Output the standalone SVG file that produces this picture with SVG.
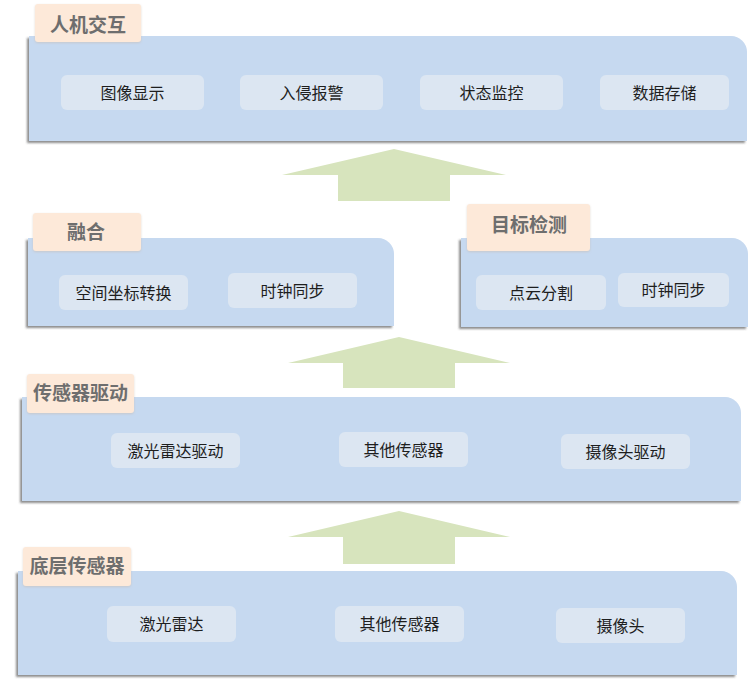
<svg xmlns="http://www.w3.org/2000/svg" width="750" height="683" viewBox="0 0 750 683">
<defs>
<filter id="sh" x="-5%" y="-10%" width="110%" height="125%">
<feDropShadow dx="-2" dy="2" stdDeviation="1" flood-color="#404040" flood-opacity="0.6"/>
</filter>
<filter id="tsh" x="-5%" y="-10%" width="110%" height="125%">
<feDropShadow dx="0" dy="1" stdDeviation="0.8" flood-color="#c8b8a8" flood-opacity="0.5"/>
</filter>
</defs>
<style>
.panel{fill:#c6d9f0;filter:url(#sh)}
.tab{fill:#fde9d9;filter:url(#tsh)}
.tabt{font-family:"Noto Sans CJK SC","Noto Sans",sans-serif;font-size:19px;font-weight:bold;fill:#6e6e6e;text-anchor:middle}
.node{fill:#dce6f2}
.nt{font-family:"Noto Sans CJK SC","Noto Sans",sans-serif;font-size:16px;fill:#1e1e1e;text-anchor:middle}
.arrow{fill:#d7e4bd}
</style>
<rect width="750" height="683" fill="#ffffff"/>

<g id="connectors">
<polygon class="arrow" points="394,149 506,175 450,175 450,201 338,201 338,175 282,175"/>
<polygon class="arrow" points="399,337 510,363 455,363 455,388 343,388 343,363 288,363"/>
<polygon class="arrow" points="399,511 510,537 455,537 455,564 343,564 343,537 288,537"/>
</g>

<g id="layer-hmi">
<path class="panel" d="M29,36 H731 A16,16 0 0 1 747,52 V141 H29 Z"/>
<rect class="tab" x="35" y="4" width="106" height="38" rx="3"/>
<text class="tabt" x="88" y="32">人机交互</text>
</g>
<g id="node-display"><rect class="node" x="61" y="75" width="143" height="35" rx="6"/><text class="nt" x="132.5" y="98.5">图像显示</text></g>
<g id="node-alarm"><rect class="node" x="240" y="75" width="143" height="35" rx="6"/><text class="nt" x="311.5" y="98.5">入侵报警</text></g>
<g id="node-monitor"><rect class="node" x="420" y="75" width="143" height="35" rx="6"/><text class="nt" x="491.5" y="98.5">状态监控</text></g>
<g id="node-storage"><rect class="node" x="600" y="75" width="129" height="35" rx="6"/><text class="nt" x="664.5" y="98.5">数据存储</text></g>

<g id="layer-fusion">
<path class="panel" d="M28,238 H378 A16,16 0 0 1 394,254 V326 H28 Z"/>
<rect class="tab" x="33" y="213" width="108" height="38" rx="3"/>
<text class="tabt" x="86" y="239">融合</text>
</g>
<g id="node-coord"><rect class="node" x="59" y="275" width="129" height="35" rx="6"/><text class="nt" x="123.5" y="298.5">空间坐标转换</text></g>
<g id="node-clock1"><rect class="node" x="228" y="273" width="129" height="35" rx="6"/><text class="nt" x="292.5" y="296.5">时钟同步</text></g>

<g id="layer-detect">
<path class="panel" d="M461,238 H732 A16,16 0 0 1 748,254 V327 H461 Z"/>
<rect class="tab" x="467" y="204" width="123" height="47" rx="3"/>
<text class="tabt" x="529" y="232">目标检测</text>
</g>
<g id="node-seg"><rect class="node" x="476" y="275" width="130" height="35" rx="6"/><text class="nt" x="541" y="298.5">点云分割</text></g>
<g id="node-clock2"><rect class="node" x="618" y="273" width="111" height="34" rx="6"/><text class="nt" x="673.5" y="296">时钟同步</text></g>

<g id="layer-driver">
<path class="panel" d="M22,397 H725 A16,16 0 0 1 741,413 V501 H22 Z"/>
<rect class="tab" x="27" y="374" width="107" height="39" rx="3"/>
<text class="tabt" x="80.5" y="400">传感器驱动</text>
</g>
<g id="node-lidar-drv"><rect class="node" x="111" y="433" width="129" height="35" rx="6"/><text class="nt" x="175.5" y="456.5">激光雷达驱动</text></g>
<g id="node-other-drv"><rect class="node" x="339" y="432" width="129" height="35" rx="6"/><text class="nt" x="403.5" y="455.5">其他传感器</text></g>
<g id="node-cam-drv"><rect class="node" x="561" y="434" width="129" height="35" rx="6"/><text class="nt" x="625.5" y="457.5">摄像头驱动</text></g>

<g id="layer-sensor">
<path class="panel" d="M18,571 H721 A16,16 0 0 1 737,587 V675 H18 Z"/>
<rect class="tab" x="23" y="547" width="108" height="39" rx="3"/>
<text class="tabt" x="77" y="573">底层传感器</text>
</g>
<g id="node-lidar"><rect class="node" x="107" y="606" width="129" height="36" rx="6"/><text class="nt" x="171.5" y="630">激光雷达</text></g>
<g id="node-other"><rect class="node" x="335" y="606" width="129" height="36" rx="6"/><text class="nt" x="399.5" y="630">其他传感器</text></g>
<g id="node-cam"><rect class="node" x="556" y="608" width="129" height="35" rx="6"/><text class="nt" x="620.5" y="631.5">摄像头</text></g>
</svg>
